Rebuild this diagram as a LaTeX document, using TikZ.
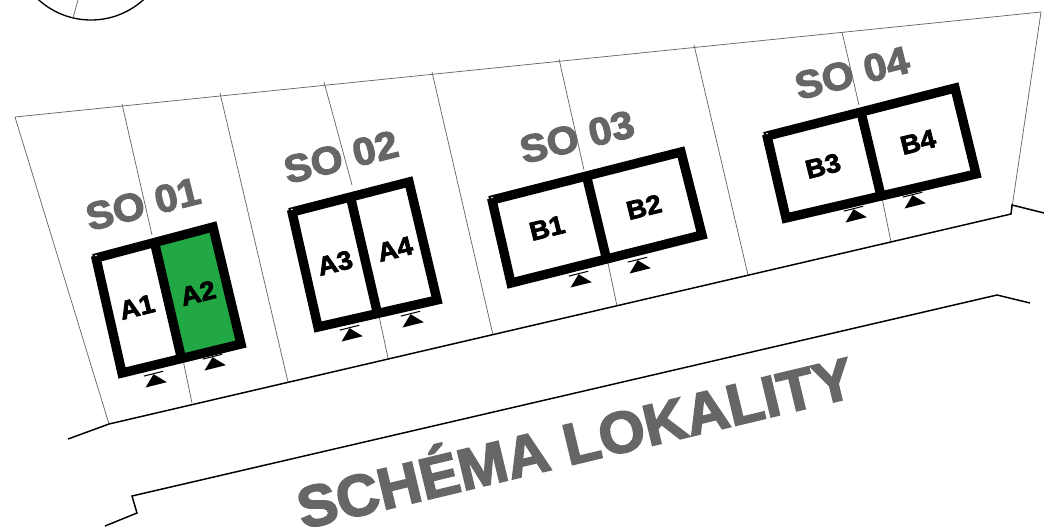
\documentclass[tikz,border=0pt]{standalone}
\usepackage{fontspec}
\setmainfont{Liberation Sans}
\newfontfamily\heavyfont{Liberation Sans Bold}[FakeBold=3, FakeStretch=1.06]
\newfontfamily\titlefont{Liberation Sans Bold}[FakeBold=3, FakeStretch=1.02]
\usetikzlibrary{calc}

\begin{document}
\begin{tikzpicture}[
    x=0.75pt, y=-0.75pt,
    plot/.style={draw=black!60, line width=0.55pt},
    road/.style={draw=black, line width=1.1pt},
    wall/.style={draw=black, line width=7pt},
    unit/.style={font=\heavyfont\fontsize{19.5}{19.5}\selectfont, rotate=14, inner sep=0pt},
    solabel/.style={font=\heavyfont\fontsize{29}{29}\selectfont, text=black!60, rotate=14, inner sep=0pt},
    title/.style={font=\titlefont\fontsize{43.6}{43.6}\selectfont, text=black!60, rotate=13.5, inner sep=0pt},
    entry/.style={fill=black, draw=none}
]
    \clip (0,0) rectangle (1044,526);
    \useasboundingbox (0,0) rectangle (1044,526);

    % Roundabout at the top
    \draw[line width=1pt] (91,-58) circle (78);
    \draw[plot] (78,0) -- (73,18);

    % Plots
    \draw[plot] (109,424) -- (15,117) -- (1041,12) -- (1011,214);
    \draw[plot] (122,104) -- (152,235);
    \draw[plot] (183,360) -- (192,403);
    \draw[plot] (220,93) -- (288,382);
    \draw[plot] (324,82) -- (352,185);
    \draw[plot] (379,316) -- (388,358);
    \draw[plot] (432,72) -- (493,335);
    \draw[plot] (559,59) -- (584,170);
    \draw[plot] (608,263) -- (617,306);
    \draw[plot] (694,45) -- (748,275);
    \draw[plot] (842,32) -- (859,105);
    \draw[plot] (882,198) -- (891,242);

    % Road
    \draw[road] (68,439) -- (109,424) -- (1011,214) -- (1012,205) -- (1044,213);
    \draw[road] (105,526) -- (137,513) -- (132,496) -- (997,295) -- (1030,303);

    % Green unit
    \fill[fill={rgb,255:red,34;green,167;blue,69}]
        (154.5,242.4) -- (213,227) -- (241,344) -- (181.5,358.6) -- cycle;

    % Building frames
    \foreach \name/\tla/\tlb/\tra/\trb/\bra/\brb/\bla/\blb in {
        one/96/258/213/227/241/344/122/373,
        two/292/212/409/182/437/300/318/327,
        three/492/200/681/152/702/235/511/283,
        four/767/136/955/88/976/174/786/218}{
        \coordinate (\name tl) at (\tla,\tlb);
        \coordinate (\name tr) at (\tra,\trb);
        \coordinate (\name br) at (\bra,\brb);
        \coordinate (\name bl) at (\bla,\blb);
        \draw[wall] ($(\name tl)!-2pt!(\name tr)$) -- (\name tr) -- (\name br) -- (\name bl) -- ($(\name bl)!1.02!(\name tl)$);
        \draw[wall] ($(\name tl)!.5!(\name tr)$) -- ($(\name bl)!.5!(\name br)$);
        \fill[white] ($(\name tl)+(0,-2.5)$) circle (0.9);
    }

    % Entrance marks
    \foreach \mx/\my in {155/380, 214/363, 351/334, 412/320, 580/280, 639/266, 855/215, 914/201}{
        \begin{scope}[shift={(\mx,\my)}, rotate=14]
            \draw[line width=0.8pt] (-10,-6.5) -- (10,-6.5);
            \fill[entry] (-11,5) -- (11,5) -- (0,-6) -- cycle;
        \end{scope}
    }

    % Unit labels
    \node[unit] (a1) at (137,307) {A1};
    \node[unit] (a2) at (198,293) {A2};
    \node[unit] (a3) at (335,263) {A3};
    \node[unit] (a4) at (395,249) {A4};
    \node[unit] (b1) at (547,228) {B1};
    \node[unit] (b2) at (644,207) {B2};
    \node[unit] (b3) at (823,166) {B3};
    \node[unit] (b4) at (918,142) {B4};

    % Building labels
    \node[solabel] (so1) at (143,204) {SO 01};
    \node[solabel] (so2) at (341,157) {SO 02};
    \node[solabel] (so3) at (577,137) {SO 03};
    \node[solabel] (so4) at (852,73) {SO 04};

    % Title
    \node[title] (schema) at (574,438) {SCHÉMA LOKALITY};
\end{tikzpicture}
\end{document}
